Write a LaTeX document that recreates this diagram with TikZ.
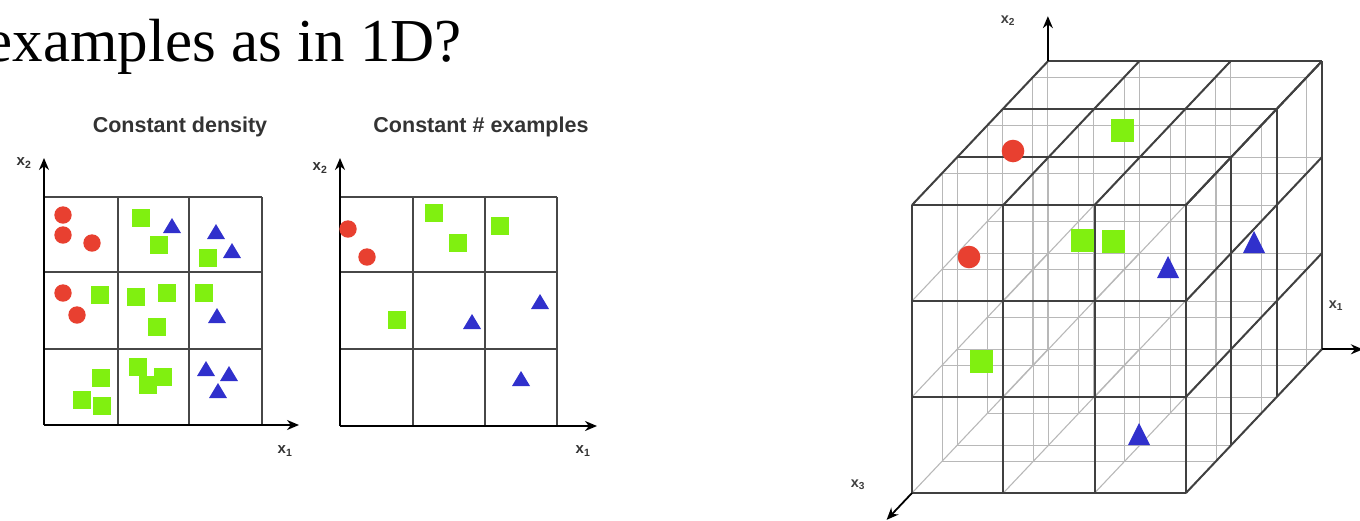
\documentclass[tikz,border=0pt]{standalone}
\usepackage{fontspec}
\setmainfont{Liberation Serif}
\setsansfont{Liberation Sans}
\usetikzlibrary{arrows.meta,calc}

\definecolor{ptred}{RGB}{232,64,48}
\definecolor{ptgreen}{RGB}{128,240,16}
\definecolor{ptblue}{RGB}{48,48,204}

\tikzset{
  gridline/.style={line width=2.2pt,black!72},
  axisline/.style={line width=2.4pt,black},
  cubeline/.style={line width=2pt,black!75},
  hiddenline/.style={line width=1.1pt,black!28},
  paneltitle/.style={font=\sffamily\bfseries\fontsize{21.5}{24}\selectfont,text=black!80,anchor=base},
  axlabel/.style={font=\sffamily\bfseries\fontsize{15}{15}\selectfont,text=black!80,inner sep=0pt},
  cubelabel/.style={font=\sffamily\bfseries\fontsize{14.5}{14.5}\selectfont,text=black!75,inner sep=0pt},
}

\begin{document}
\begin{tikzpicture}[x=1pt,y=-1pt,>={Stealth[length=12pt,width=10pt]}]
\useasboundingbox (0,0) rectangle (1360,520);

% ============================================================
% 1. HEADLINE
% ============================================================

\node[anchor=base east,inner sep=0pt,font=\fontsize{61}{63}\selectfont] (head) at (462,61) {examples as in 1D?};

% ============================================================
% 2. CONSTANT DENSITY
% ============================================================

\node[paneltitle] (titleA) at (180,132) {Constant density};

% grid
\foreach \x in {118,189,262}{\draw[gridline] (\x,197) -- (\x,425);}
\foreach \y in {197,272,349}{\draw[gridline] (44,\y) -- (262,\y);}

% axes
\coordinate (OA) at (44,425);
\coordinate (AupA) at (44,158);
\coordinate (ArtA) at (299,425);
\draw[axisline,->] (OA) -- (AupA);
\draw[axisline,->] (OA) -- (ArtA);
\node[axlabel] (x2A) at (24,163) {x\textsubscript{2}};
\node[axlabel] (x1A) at (285,451) {x\textsubscript{1}};

% points
\foreach \p in {(63,215),(63,235),(92,243),(63,293),(77,315)}{
  \fill[ptred] \p circle (8.7);
}
\foreach \p in {(141,218),(159,245),(208,258),(100,295),(136,297),(167,293),
                (157,327),(204,293),(101,378),(82,400),(102,406),(138,367),
                (148,385),(163,377)}{
  \fill[ptgreen,shift={\p}] (-9,-9) rectangle (9,9);
}
\foreach \p in {(172,227),(216,233),(232,252),(217,317),(206,370),(229,375),(218,392)}{
  \fill[ptblue,shift={\p}] (0,-9) -- (9,6) -- (-9,6) -- cycle;
}

% ============================================================
% 3. CONSTANT # EXAMPLES
% ============================================================

\node[paneltitle] (titleB) at (481,132) {Constant \# examples};

% grid
\foreach \x in {413,485,557}{\draw[gridline] (\x,197) -- (\x,426);}
\foreach \y in {197,272,349}{\draw[gridline] (340,\y) -- (557,\y);}

% axes
\coordinate (OB) at (340,426);
\coordinate (AupB) at (340,158);
\coordinate (ArtB) at (597,426);
\draw[axisline,->] (OB) -- (AupB);
\draw[axisline,->] (OB) -- (ArtB);
\node[axlabel] (x2B) at (320,168) {x\textsubscript{2}};
\node[axlabel] (x1B) at (583,451) {x\textsubscript{1}};

% points
\foreach \p in {(348,229),(367,257)}{
  \fill[ptred] \p circle (8.7);
}
\foreach \p in {(434,213),(458,243),(500,226),(397,320)}{
  \fill[ptgreen,shift={\p}] (-9,-9) rectangle (9,9);
}
\foreach \p in {(472,323),(540,303),(521,380)}{
  \fill[ptblue,shift={\p}] (0,-9) -- (9,6) -- (-9,6) -- cycle;
}

% ============================================================
% 4. 3D CUBE
% ============================================================

\begin{scope}[shift={(912,493)},x={(91.3pt,0pt)},y={(0pt,96pt)},z={(45.3pt,47.9pt)}]

% hidden lattice
\foreach \d in {0,0.667,1,1.667,2,2.667,3}{
  \foreach \i in {0,1,2,3}{\draw[hiddenline] (\i,0,\d) -- (\i,3,\d);}
  \foreach \j in {0,1,2,3}{\draw[hiddenline] (0,\j,\d) -- (3,\j,\d);}
}
\foreach \i in {0,1,2,3}{
  \foreach \j in {0,1,2,3}{\draw[hiddenline] (\i,\j,0) -- (\i,\j,3);}
}

% outer faces (front, top, right)
\foreach \k in {0,1,2,3}{
  \draw[cubeline] (\k,0,0) -- (\k,3,0);
  \draw[cubeline] (0,\k,0) -- (3,\k,0);
  \draw[cubeline] (0,3,\k) -- (3,3,\k);
  \draw[cubeline] (\k,3,0) -- (\k,3,3);
  \draw[cubeline] (3,0,\k) -- (3,3,\k);
  \draw[cubeline] (3,\k,0) -- (3,\k,3);
}

% axes
\coordinate (C2) at (0,3,3);
\coordinate (C2tip) at (0,3.47,3);
\coordinate (C1) at (3,0,3);
\coordinate (C1tip) at (3.45,0,3);
\coordinate (C3) at (0,0,0);
\coordinate (C3tip) at (0,0,-0.56);
\draw[axisline,line width=1.8pt,->] (C2) -- (C2tip);
\draw[axisline,line width=1.8pt,->] (C1) -- (C1tip);
\draw[axisline,line width=1.8pt,->] (C3) -- (C3tip);
\end{scope}

\node[cubelabel] (x2C) at (1008,21) {x\textsubscript{2}};
\node[cubelabel] (x1C) at (1336,306) {x\textsubscript{1}};
\node[cubelabel] (x3C) at (858,485) {x\textsubscript{3}};

% points
\foreach \p in {(1013,151),(969,257)}{
  \fill[ptred] \p circle (11.3);
}
\foreach \p in {(1122,130),(1082,240),(1113,241),(981,361)}{
  \fill[ptgreen,shift={\p}] (-11.5,-11.5) rectangle (11.5,11.5);
}
\foreach \p in {(1168,268),(1254,243),(1139,435)}{
  \fill[ptblue,shift={\p}] (0,-12) -- (11,10) -- (-11,10) -- cycle;
}

\end{tikzpicture}
\end{document}
